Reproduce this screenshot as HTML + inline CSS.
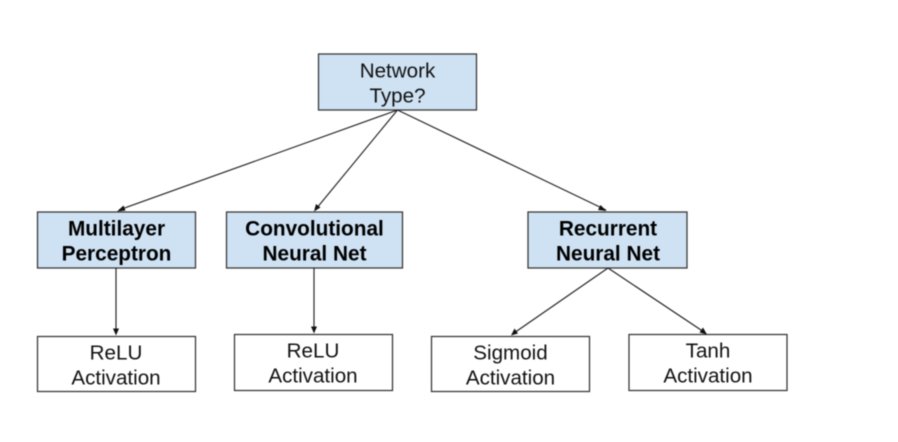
<!DOCTYPE html>
<html><head><meta charset="utf-8"><style>
html,body{margin:0;padding:0;background:#fff}
svg{display:block;filter:blur(0.4px)}
text{font-family:"Liberation Sans",sans-serif;font-size:20.6px;fill:#111;text-anchor:middle}
.b{font-weight:bold;fill:#000;font-size:20.8px}
rect{stroke:#333;stroke-width:1.25}
.t{fill:#cfe2f3}.w{fill:#fff}
line{stroke:#222;stroke-width:1.15}
polygon{fill:#111}
</style></head><body>
<svg width="898" height="442" viewBox="0 0 898 442" xmlns="http://www.w3.org/2000/svg">
<rect class="t" x="318.5" y="54" width="158" height="56"/>
<rect class="t" x="37.5" y="212" width="158" height="56"/>
<rect class="t" x="226.5" y="212" width="176" height="56"/>
<rect class="t" x="528" y="212" width="159" height="56"/>
<rect class="w" x="37.5" y="336.500" width="158" height="55"/>
<rect class="w" x="234.500" y="334.500" width="158" height="56"/>
<rect class="w" x="431.500" y="336.500" width="158" height="55"/>
<rect class="w" x="629" y="334.500" width="158" height="56"/>
<line x1="397.500" y1="110" x2="119" y2="210"/>
<line x1="397.500" y1="110" x2="316" y2="209"/>
<line x1="397.500" y1="110" x2="606" y2="210"/>
<line x1="116" y1="268" x2="116" y2="332"/>
<line x1="314" y1="268" x2="314" y2="330"/>
<line x1="608" y1="268" x2="514" y2="333"/>
<line x1="608" y1="268" x2="704" y2="332"/>
<polygon points="117,211.500 123.500,205.500 125.500,210.500"/>
<polygon points="314,211.500 316,204 320.500,207.500"/>
<polygon points="606.500,211 598,210 600.500,205"/>
<polygon points="116,335.500 113,328.500 119,328.500"/>
<polygon points="314,333.500 311,326.500 317,326.500"/>
<polygon points="511,335.500 514.500,328.500 518,333.500"/>
<polygon points="707,334.500 699.500,332.500 703,327.500"/>
<text x="397.500" y="77.300">Network</text>
<text x="397.500" y="102.300">Type?</text>
<text class="b" x="116.500" y="235.300">Multilayer</text>
<text class="b" x="116.500" y="260.300">Perceptron</text>
<text class="b" x="314.500" y="235.300">Convolutional</text>
<text class="b" x="314.500" y="260.300">Neural Net</text>
<text class="b" x="608" y="235.300">Recurrent</text>
<text class="b" x="608" y="260.300">Neural Net</text>
<text x="116" y="359.300">ReLU</text>
<text x="116" y="384.300">Activation</text>
<text x="313" y="357.300">ReLU</text>
<text x="313" y="382.300">Activation</text>
<text x="510.500" y="359.300">Sigmoid</text>
<text x="510.500" y="384.300">Activation</text>
<text x="708" y="357.300">Tanh</text>
<text x="708" y="382.300">Activation</text>
</svg>
</body></html>
